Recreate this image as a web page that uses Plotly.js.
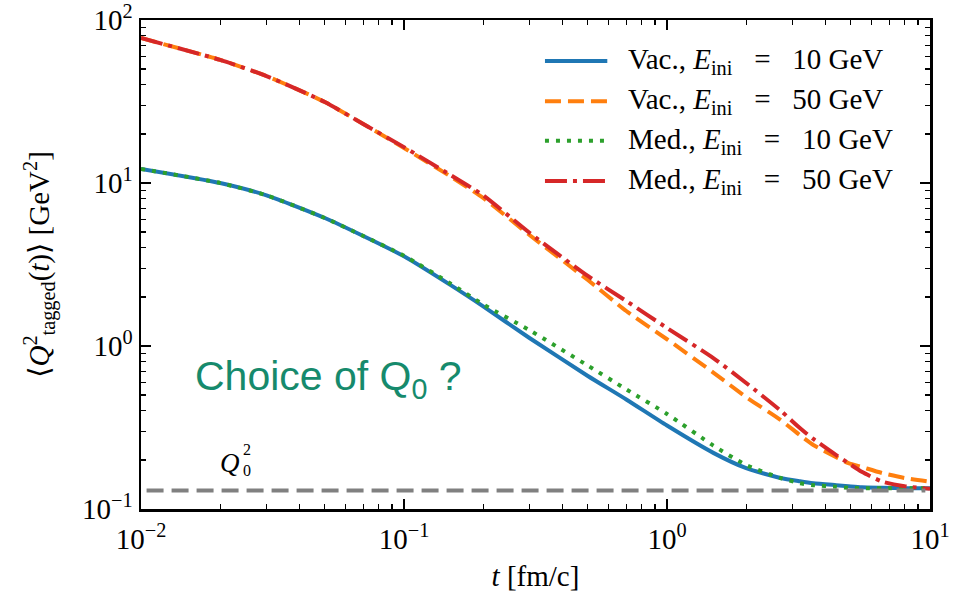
<!DOCTYPE html>
<html>
<head>
<meta charset="utf-8">
<script src="https://cdn.plot.ly/plotly-3.0.1.min.js"></script>
<style>html,body{margin:0;padding:0;background:#fff;}#chart{width:964px;height:592px;}</style>
</head>
<body>
<div id="chart"></div>
<script>
// time points [fm/c]
const tValues = [0.01, 0.02, 0.03, 0.05, 0.07, 0.1, 0.15, 0.2, 0.3, 0.5, 0.7, 1, 1.5, 2, 2.7, 3.2, 3.6, 4.4, 4.9, 5.5, 6.6, 8, 10];
// <Q^2_tagged(t)> [GeV^2]
const vac10 = [12.2, 10.0, 8.4, 6.1, 4.73, 3.55, 2.37, 1.75, 1.12, 0.655, 0.47, 0.325, 0.221, 0.178, 0.155, 0.148, 0.144, 0.140, 0.138, 0.136, 0.135, 0.134, 0.134];
const vac50 = [77.5, 56.9, 45.3, 31.4, 23.0, 16.4, 11.0, 8.1, 4.8, 2.54, 1.64, 1.10, 0.687, 0.486, 0.352, 0.284, 0.247, 0.208, 0.191, 0.181, 0.166, 0.155, 0.147];
const med10 = [12.2, 10.0, 8.4, 6.1, 4.73, 3.58, 2.42, 1.80, 1.25, 0.758, 0.542, 0.383, 0.245, 0.186, 0.155, 0.144, 0.140, 0.137, 0.135, 0.134, 0.134, 0.134, 0.134];
const med50 = [77.5, 56.9, 45.3, 31.4, 23.0, 16.6, 11.2, 8.4, 4.95, 2.69, 1.89, 1.29, 0.843, 0.593, 0.402, 0.314, 0.269, 0.214, 0.191, 0.169, 0.147, 0.138, 0.133];
const q0sq = 0.13;
const q0Range = [0.0105, 9.6];

const eq = '&nbsp;&nbsp;&nbsp;=&nbsp;&nbsp;&nbsp;';
const seriesNames = [
  'Vac., <i>E</i><sub>ini</sub>' + eq + '10 GeV',
  'Vac., <i>E</i><sub>ini</sub>' + eq + '50 GeV',
  'Med., <i>E</i><sub>ini</sub>' + eq + '10 GeV',
  'Med., <i>E</i><sub>ini</sub>' + eq + '50 GeV'
];
const seriesData = [vac10, vac50, med10, med50];
const seriesColors = ['#1f77b4', '#ff7f0e', '#2ca02c', '#d62728'];
const seriesDash = ['solid', '16px,7px', '4px,7px', '22px,6px,4px,6px'];

const xTickVals = [0.01, 0.1, 1, 10];
const xTickText = ['10<sup>−2</sup>', '10<sup>−1</sup>', '10<sup>0</sup>', '10<sup>1</sup>'];
const yTickVals = [0.1, 1, 10, 100];
const yTickText = ['10<sup>−1</sup>', '10<sup>0</sup>', '10<sup>1</sup>', '10<sup>2</sup>'];

function minorVals(lo, hi) {
  const v = [];
  for (let d = lo; d < hi; d *= 10) for (let k = 2; k <= 9; k++) v.push(+(d * k).toPrecision(3));
  return v;
}

const serif = 'Liberation Serif, DejaVu Serif, serif';
const lw = 4;

const traces = seriesData.map((ys, i) => ({
  type: 'scatter', mode: 'lines', hoverinfo: 'skip', showlegend: false,
  x: tValues, y: ys, name: seriesNames[i],
  line: {color: seriesColors[i], width: lw, dash: seriesDash[i], shape: 'spline', smoothing: 0.6}
}));
traces.push({type: 'scatter', mode: 'lines', hoverinfo: 'skip', showlegend: false, name: 'Q0',
  x: q0Range, y: [q0sq, q0sq], line: {color: '#808080', width: lw, dash: '17px,8px'}});

// manual legend (long line samples like the reference)
const legRows = [0.916, 0.834, 0.753, 0.671];
const shapes = seriesNames.map((n, i) => ({
  type: 'line', xref: 'paper', yref: 'paper', x0: 0.512, x1: 0.591, y0: legRows[i], y1: legRows[i],
  line: {color: seriesColors[i], width: lw, dash: seriesDash[i]}
}));
const legendTexts = seriesNames.map((n, i) => ({
  xref: 'paper', yref: 'paper', x: 0.615, y: legRows[i], xanchor: 'left', yanchor: 'middle', showarrow: false,
  text: n, font: {family: serif, size: 29, color: '#000'}
}));

const axisCommon = {
  type: 'log',
  showgrid: false, zeroline: false,
  showline: true, linecolor: '#000', linewidth: 2.5,
  mirror: 'allticks',
  ticks: 'inside', ticklen: 10, tickwidth: 1.5, tickcolor: '#000',
  tickmode: 'array',
  ticklabeloverflow: 'allow',
  tickfont: {family: serif, size: 29, color: '#000'}
};

const layout = {
  width: 964, height: 592,
  margin: {l: 141, r: 34, t: 20, b: 83},
  paper_bgcolor: '#fff', plot_bgcolor: '#fff',
  showlegend: false,
  xaxis: Object.assign({}, axisCommon, {
    range: [-2, 1],
    tickvals: xTickVals, ticktext: xTickText, ticklabelstandoff: 3,
    minor: {tickmode: 'array', tickvals: minorVals(0.01, 10), ticks: 'inside', ticklen: 5, tickwidth: 1.2, tickcolor: '#000'},
    title: {text: '<i>t</i> [fm/c]', font: {family: serif, size: 29, color: '#000'}, standoff: 12}
  }),
  yaxis: Object.assign({}, axisCommon, {
    range: [-1, 2],
    tickvals: yTickVals, ticktext: yTickText,
    minor: {tickmode: 'array', tickvals: minorVals(0.1, 100), ticks: 'inside', ticklen: 5, tickwidth: 1.2, tickcolor: '#000'},
    title: {text: '⟨<i>Q</i><sup>2</sup><sub>tagged</sub>(<i>t</i>)⟩ [GeV<sup>2</sup>]', font: {family: serif, size: 29, color: '#000'}, standoff: 24}
  }),
  shapes: shapes,
  annotations: legendTexts.concat([
    {xref: 'paper', yref: 'paper', x: 0.066, y: 0.265, xanchor: 'left', yanchor: 'middle', showarrow: false,
     text: 'Choice of Q<sub>0</sub> ?', font: {family: 'Liberation Sans, Arial, sans-serif', size: 41, color: '#168a6c'}},
    {xref: 'paper', yref: 'paper', x: 0.113, y: 0.094, xanchor: 'center', yanchor: 'middle', showarrow: false,
     text: '<i>Q</i>', font: {family: serif, size: 27, color: '#000'}},
    {xref: 'paper', yref: 'paper', x: 0.134, y: 0.101, xanchor: 'center', yanchor: 'middle', showarrow: false,
     text: '2<br>0', font: {family: serif, size: 16, color: '#000'}}
  ])
};

Plotly.newPlot('chart', traces, layout, {displayModeBar: false, staticPlot: true});
</script>
</body>
</html>
